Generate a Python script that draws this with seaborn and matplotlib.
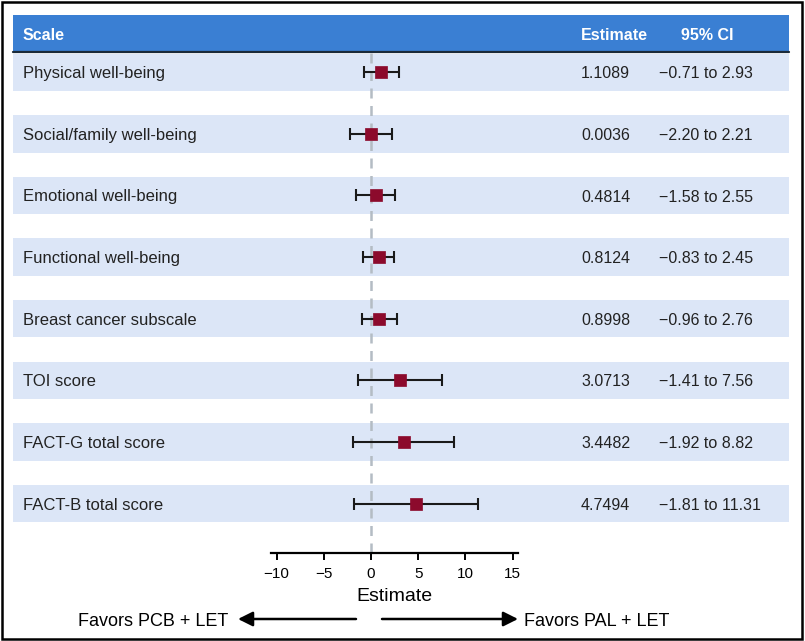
import matplotlib
matplotlib.use('Agg')
import matplotlib.pyplot as plt
from matplotlib.patches import Rectangle
import seaborn as sns
import pandas as pd

sns.set_theme(style="white")
plt.rcParams['font.family'] = ['Liberation Sans', 'DejaVu Sans']

# DATA
scales = ['Physical well-being', 'Social/family well-being', 'Emotional well-being',
          'Functional well-being', 'Breast cancer subscale', 'TOI score',
          'FACT-G total score', 'FACT-B total score']
estimates = [1.1089, 0.0036, 0.4814, 0.8124, 0.8998, 3.0713, 3.4482, 4.7494]
ci_low = [-0.71, -2.20, -1.58, -0.83, -0.96, -1.41, -1.92, -1.81]
ci_high = [2.93, 2.21, 2.55, 2.45, 2.76, 7.56, 8.82, 11.31]
x_ticks = [-10, -5, 0, 5, 10, 15]

df = pd.DataFrame({'Scale': scales, 'Estimate': estimates,
                   'Low': ci_low, 'High': ci_high})
df['Row'] = range(len(df))

W, H = 805, 641
fig = plt.figure(figsize=(W / 100, H / 100), dpi=100)

# background "table" in pixel coordinates
bg = fig.add_axes([0, 0, 1, 1])
bg.set_xlim(0, W)
bg.set_ylim(H, 0)
bg.axis('off')

text_col = '#222222'
band_col = '#dce6f7'
header_col = '#3a7fd3'
row0, row_step, band_h = 72.3, 61.6, 37.5

bg.add_patch(Rectangle((1.5, 1.5), W - 4.5, H - 3.5, fill=False, ec='black', lw=1.8))
bg.add_patch(Rectangle((13, 15), 776, 37, fc=header_col, ec='none'))
bg.plot([13, 789], [52, 52], color='#1a2a3a', lw=1.6)
hdr = dict(color='white', fontsize=11.5, fontweight='bold', va='center_baseline')
bg.text(23, 34, 'Scale', **hdr)
bg.text(581, 34, 'Estimate', **hdr)
bg.text(707, 34, '95% CI', ha='center', **hdr)

for i, row in df.iterrows():
    yc = row0 + row_step * row['Row']
    bg.add_patch(Rectangle((13, yc - band_h / 2), 776, band_h, fc=band_col, ec='none'))
    bg.text(23, yc, row['Scale'], color=text_col, fontsize=12, va='center_baseline')
    bg.text(581, yc, f"{row['Estimate']:.4f}", color=text_col, fontsize=11.5,
            va='center_baseline')
    ci_txt = f"{row['Low']:.2f} to {row['High']:.2f}".replace('-', '\u2212')
    bg.text(659, yc, ci_txt, color=text_col, fontsize=11.5, va='center_baseline')

# arrows and favour labels
arrow_y = 619
arr = dict(arrowstyle='-|>', color='black', lw=1.8, mutation_scale=22,
           shrinkA=0, shrinkB=0)
bg.annotate('', xy=(238, arrow_y), xytext=(356, arrow_y), arrowprops=arr)
bg.annotate('', xy=(518, arrow_y), xytext=(382, arrow_y), arrowprops=arr)
bg.text(228, arrow_y, 'Favors PCB + LET', fontsize=13, color='black', ha='right',
        va='center_baseline')
bg.text(524, arrow_y, 'Favors PAL + LET', fontsize=13, color='black', ha='left',
        va='center_baseline')

# forest plot axes
x0_px, px_per_unit = 371, 9.44
xlim = (-10.6, 15.6)
top_px, axis_px = 52, 552.7
left = (x0_px + xlim[0] * px_per_unit) / W
width = (xlim[1] - xlim[0]) * px_per_unit / W
ax = fig.add_axes([left, (H - axis_px) / H, width, (axis_px - top_px) / H])
ax.patch.set_alpha(0)
ax.set_xlim(*xlim)
ax.set_ylim((axis_px - row0) / row_step, (top_px - row0) / row_step)

ax.axvline(0, color='#b4bcc4', lw=1.8, ls=(0, (4, 3)), zorder=1)
ax.errorbar(df['Estimate'], df['Row'],
            xerr=[df['Estimate'] - df['Low'], df['High'] - df['Estimate']],
            fmt='none', ecolor='#1a1a1a', elinewidth=1.5, capsize=4, capthick=1.5, zorder=2)
sns.scatterplot(data=df, x='Estimate', y='Row', marker='s', s=80, color='#8c0a2c',
                edgecolor='#8c0a2c', linewidth=0.5, zorder=3, ax=ax)

for side in ['left', 'top', 'right']:
    ax.spines[side].set_visible(False)
ax.spines['bottom'].set_color('black')
ax.spines['bottom'].set_linewidth(1.6)
ax.set_yticks([])
ax.set_ylabel('')
ax.set_xticks(x_ticks)
ax.tick_params(axis='x', direction='out', length=5, width=1.4, color='black',
               labelsize=11, labelcolor='black', pad=5, bottom=True)
ax.set_xlabel('Estimate', fontsize=14, color='black', labelpad=5)
ax.grid(False)

fig.savefig('out.png', dpi=100)
